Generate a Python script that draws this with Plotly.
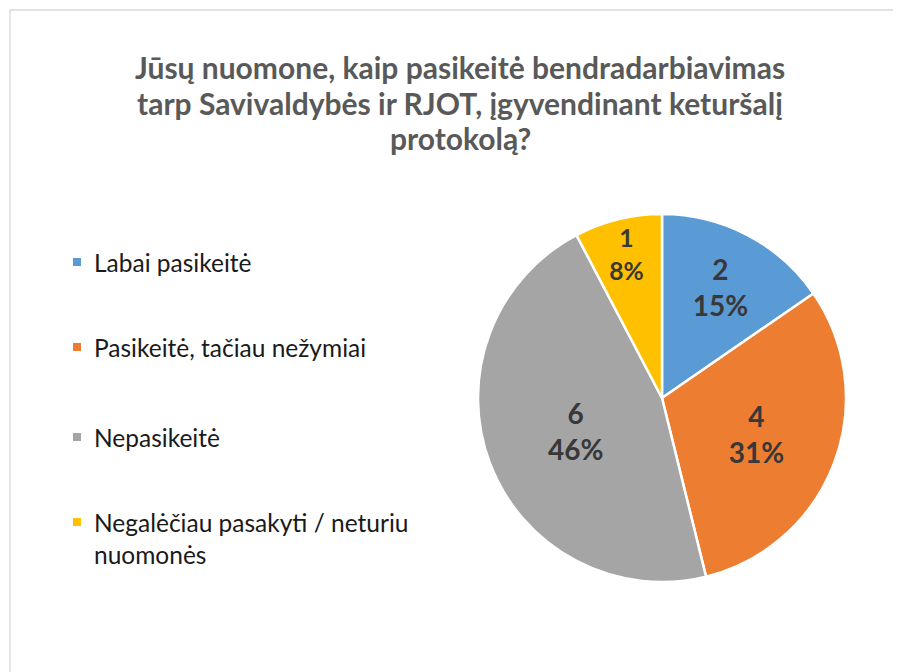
import plotly.graph_objects as go

categories = ["Labai pasikeitė", "Pasikeitė, tačiau nežymiai", "Nepasikeitė",
              "Negalėčiau pasakyti / neturiu<br>nuomonės"]
values = [2, 4, 6, 1]
colors = ["#5B9BD5", "#ED7D31", "#A5A5A5", "#FFC000"]
title_lines = ["Jūsų nuomone, kaip pasikeitė bendradarbiavimas",
               "tarp Savivaldybės ir RJOT, įgyvendinant keturšalį",
               "protokolą?"]

W, H = 893, 664          # page body has an 8px margin
OFF = 8
FONT = "Lato, Carlito, Calibri, sans-serif"


def px(x):
    return (x - OFF) / W


def py(y):
    return 1 - (y - OFF) / H


cx, cy, r = 662, 398, 184

fig = go.Figure()
fig.add_trace(go.Pie(
    labels=categories, values=values, sort=False, direction="clockwise",
    rotation=0,
    marker=dict(colors=colors, line=dict(color="white", width=2.5)),
    texttemplate="<b>%{value}<br>%{percent:.0%}</b>",
    textposition="inside", insidetextorientation="horizontal",
    textfont=dict(family=FONT, size=28, color="#383838"),
    domain=dict(x=[px(cx - r), px(cx + r)], y=[py(cy + r), py(cy - r)]),
    showlegend=False, hoverinfo="label+value+percent",
))

shapes = [dict(type="rect", xref="paper", yref="paper",
               x0=px(10), x1=px(897), y0=-0.05, y1=py(10),
               line=dict(color="#D9D9D9", width=1.3), fillcolor="rgba(0,0,0,0)")]
annotations = []
for line, yy in zip(title_lines, [67, 103, 138]):
    annotations.append(dict(text="<b>" + line + "</b>", x=px(460), y=py(yy),
                            xref="paper", yref="paper", showarrow=False,
                            xanchor="center", yanchor="middle",
                            font=dict(family=FONT, size=30, color="#595959")))

legend_y = [262, 347, 437, 522]
for cat, col, yy in zip(categories, colors, legend_y):
    shapes.append(dict(type="rect", xref="paper", yref="paper",
                       x0=px(73), x1=px(81), y0=py(yy + 4), y1=py(yy - 4),
                       fillcolor=col, line=dict(width=0)))
    annotations.append(dict(text=cat, x=px(92), y=py(yy - 16),
                            xref="paper", yref="paper", showarrow=False,
                            xanchor="left", yanchor="top", align="left",
                            font=dict(family=FONT, size=24.5, color="#1a1a1a")))

fig.update_layout(
    width=W, height=H, margin=dict(l=0, r=0, t=0, b=0),
    paper_bgcolor="white", plot_bgcolor="white",
    shapes=shapes, annotations=annotations,
)
fig.write_html("out.html")
